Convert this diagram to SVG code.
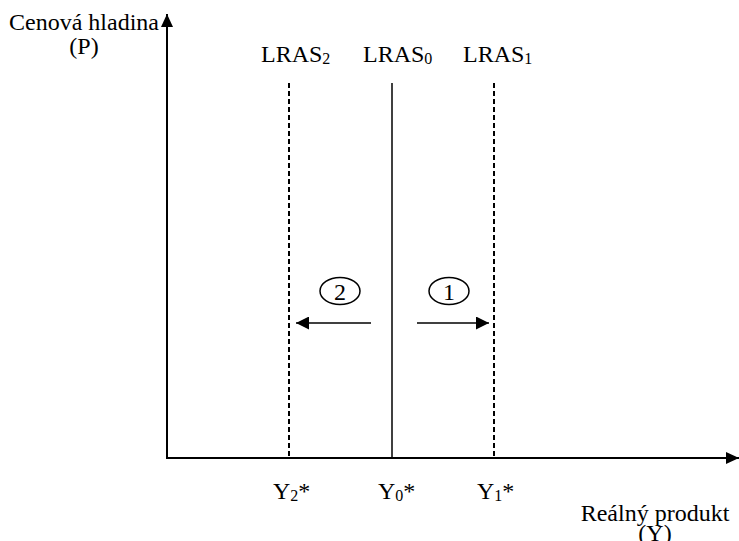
<svg xmlns="http://www.w3.org/2000/svg" width="739" height="541" viewBox="0 0 739 541">
<style>
text{font-family:"Liberation Serif","Times New Roman",serif;font-size:24px;fill:#000}
.sub{font-size:16px}
.ax{stroke:#000;stroke-width:2;fill:none}
.ln{stroke:#000;stroke-width:1.5;fill:none}
.dash{stroke:#000;stroke-width:2;stroke-dasharray:5,3;fill:none}
</style>
<defs>
<marker id="ah" viewBox="0 0 13 13" refX="13" refY="6.5" markerWidth="13" markerHeight="13" markerUnits="userSpaceOnUse" orient="auto">
<path d="M0,0 L13,6.5 L0,13 z" fill="#000"/>
</marker>
<marker id="axh" viewBox="0 0 13 12" refX="13" refY="6" markerWidth="13" markerHeight="12" markerUnits="userSpaceOnUse" orient="auto">
<path d="M0,0 L13,6 L0,12 z" fill="#000"/>
</marker>
</defs>
<g id="axes">
<line class="ax" x1="167" y1="459" x2="167" y2="14" marker-end="url(#axh)"/>
<line class="ax" x1="166" y1="458" x2="739" y2="458" marker-end="url(#axh)"/>
</g>
<g id="ylabel"><text x="84" y="30" text-anchor="middle">Cenová hladina</text><text x="84" y="54" text-anchor="middle">(P)</text></g>
<g id="xlabel"><text x="655" y="521" text-anchor="middle">Reálný produkt</text><text x="655" y="541" text-anchor="middle">(Y)</text></g>
<g id="lras2"><line class="dash" x1="289" y1="83" x2="289" y2="458"/><text x="261" y="62">LRAS<tspan class="sub" dy="2">2</tspan></text><text x="273" y="499">Y<tspan class="sub" dy="2">2</tspan><tspan dy="-2">*</tspan></text></g>
<g id="lras0"><line class="ln" x1="392" y1="83" x2="392" y2="458"/><text x="363" y="62">LRAS<tspan class="sub" dy="2">0</tspan></text><text x="378" y="499">Y<tspan class="sub" dy="2">0</tspan><tspan dy="-2">*</tspan></text></g>
<g id="lras1"><line class="dash" x1="494" y1="83" x2="494" y2="458"/><text x="463" y="62">LRAS<tspan class="sub" dy="2">1</tspan></text><text x="477" y="499">Y<tspan class="sub" dy="2">1</tspan><tspan dy="-2">*</tspan></text></g>
<g id="shift2"><ellipse cx="340" cy="291" rx="20" ry="13.5" class="ln"/><text x="340" y="300" text-anchor="middle">2</text></g>
<g id="shift1"><ellipse cx="449" cy="291" rx="20" ry="13.5" class="ln"/><text x="449" y="300" text-anchor="middle">1</text></g>
<g id="connectors">
<line class="ln" x1="371" y1="323" x2="296" y2="323" marker-end="url(#ah)"/>
<line class="ln" x1="417" y1="323" x2="489" y2="323" marker-end="url(#ah)"/>
</g>
</svg>
